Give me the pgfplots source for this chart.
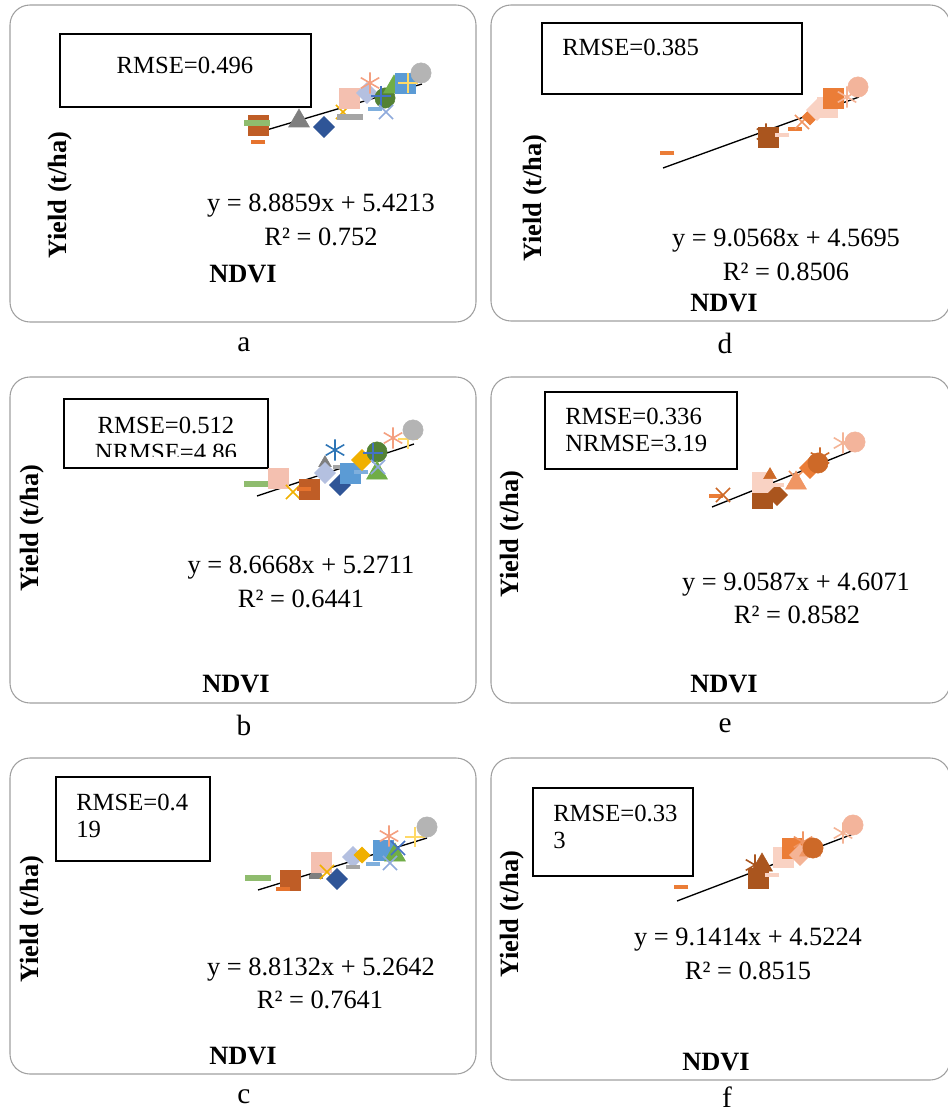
\documentclass[border=0pt]{standalone}
\usepackage{fontspec}
\setmainfont{Liberation Serif}
\usepackage{pgfplots}
\pgfplotsset{compat=1.18}

\definecolor{cBrown}{RGB}{191,93,38}
\definecolor{cLGreen}{RGB}{143,188,110}
\definecolor{cOrange}{RGB}{230,115,45}
\definecolor{cGray}{RGB}{127,127,127}
\definecolor{cNavy}{RGB}{47,85,151}
\definecolor{cGold}{RGB}{240,176,0}
\definecolor{cLGray}{RGB}{165,165,165}
\definecolor{cPink}{RGB}{244,192,176}
\definecolor{cLav}{RGB}{180,192,224}
\definecolor{cSalmon}{RGB}{244,160,128}
\definecolor{cDGreen}{RGB}{84,130,53}
\definecolor{cBlue}{RGB}{68,114,196}
\definecolor{cLBlue}{RGB}{127,175,221}
\definecolor{cPeri}{RGB}{143,170,220}
\definecolor{cGreen}{RGB}{112,173,71}
\definecolor{cSky}{RGB}{91,155,213}
\definecolor{cLGold}{RGB}{255,217,102}
\definecolor{cCircle}{RGB}{180,180,180}
\definecolor{cSteel}{RGB}{46,117,182}
\definecolor{oDark}{RGB}{170,85,30}
\definecolor{oMid}{RGB}{205,105,40}
\definecolor{oOr}{RGB}{235,125,55}
\definecolor{oSal}{RGB}{240,150,100}
\definecolor{oLight}{RGB}{244,180,150}
\definecolor{oPale}{RGB}{249,210,195}
\definecolor{oCirc}{RGB}{243,180,155}
\definecolor{frameGray}{RGB}{160,160,160}

\newcommand\ft{\fontsize{18.5}{22}\selectfont}
\newcommand\fe{\fontsize{19.8}{23}\selectfont}
\newcommand\fb{\fontsize{19.8}{23}\selectfont\bfseries}
\newcommand\fl{\fontsize{22}{26}\selectfont}

\pgfplotsset{
  panel/.style n args={4}{hide axis, clip=false, x=0.75pt, y=0.75pt,
    xmin=#1, xmax=#3, ymin=-#4, ymax=-#2,
    at={(#1*0.75pt,-#4*0.75pt)}, anchor=south west},
  S/.style={only marks, mark=square*, mark size=7.6pt, color=#1, mark options={fill=#1, draw=#1}},
  s/.style={only marks, mark=square*, mark size=5.5pt, color=#1, mark options={fill=#1, draw=#1}},
  T/.style={only marks, mark=triangle*, mark size=9pt, color=#1, mark options={fill=#1, draw=#1}},
  t/.style={only marks, mark=triangle*, mark size=5.5pt, color=#1, mark options={fill=#1, draw=#1}},
  D/.style={only marks, mark=square*, mark size=5.6pt, color=#1, mark options={fill=#1, draw=#1, rotate=45}},
  d/.style={only marks, mark=square*, mark size=4.3pt, color=#1, mark options={fill=#1, draw=#1, rotate=45}},
  C/.style={only marks, mark=*, mark size=7.6pt, color=#1, mark options={fill=#1, draw=#1}},
  X/.style={only marks, mark=x, mark size=7.5pt, color=#1, mark options={line width=1.2pt}},
  P/.style={only marks, mark=+, mark size=7.5pt, color=#1, mark options={line width=1.2pt}},
  A/.style={only marks, mark=asterisk, mark size=8pt, color=#1, mark options={line width=1.2pt}},
  H/.style={only marks, mark=-, mark size=9.5pt, color=#1, mark options={line width=3.8pt}},
  h/.style={only marks, mark=-, mark size=5.5pt, color=#1, mark options={line width=3.2pt}},
  trend/.style={sharp plot, no marks, black, line width=1pt},
}
\tikzset{frame/.style={draw=frameGray, line width=0.8pt, rounded corners=15pt},
  rbox/.style={draw=black, line width=1.6pt}}

\begin{document}
\begin{tikzpicture}
\path[use as bounding box] (0,0) rectangle (711pt,-834pt);

% ---------------- panel a ----------------
\begin{axis}[panel={10}{5}{476}{322}]
\draw[frame] (10,-5) rectangle (476,-322);
\draw[rbox] (60,-34) rectangle (311,-107);
\node[font=\ft, inner sep=0pt] at (185,-65) {RMSE=0.496};
\addplot[S=cBrown] coordinates {(258,-125)};
\addplot[H=cLGreen] coordinates {(257,-123)};
\addplot[h=cOrange] coordinates {(258,-142)};
\addplot[T=cGray] coordinates {(299,-121)};
\addplot[D=cNavy] coordinates {(324,-127)};
\addplot[X=cGold] coordinates {(343,-112)};
\addplot[H=cLGray] coordinates {(350,-117)};
\addplot[S=cPink] coordinates {(349,-98)};
\addplot[D=cLav] coordinates {(367,-93)};
\addplot[A=cSalmon] coordinates {(370,-83)};
\addplot[C=cDGreen] coordinates {(385,-98)};
\addplot[P=cBlue] coordinates {(381,-96)};
\addplot[h=cLBlue] coordinates {(375,-109)};
\addplot[X=cPeri] coordinates {(386,-112)};
\addplot[T=cGreen] coordinates {(394,-87)};
\addplot[S=cSky] coordinates {(405,-83)};
\addplot[P=cLGold] coordinates {(408,-83)};
\addplot[C=cCircle] coordinates {(421,-73)};
\addplot[trend] coordinates {(253,-134) (422,-84)};
\node[font=\fe, inner sep=0pt] at (321,-206) {y = 8.8859x + 5.4213};
\node[font=\fe, inner sep=0pt] at (321,-237) {R² = 0.752};
\node[font=\fb, inner sep=0pt] at (243,-274) {NDVI};
\node[font=\fb, inner sep=0pt, rotate=90] at (60,-195) {Yield (t/ha)};
\node[font=\fl, inner sep=0pt] at (244,-345) {a};
\end{axis}

% ---------------- panel d ----------------
\begin{axis}[panel={491}{5}{950}{321}]
\draw[frame] (491,-5) rectangle (950,-321);
\draw[rbox] (542,-23) rectangle (802,-94);
\node[font=\ft, inner sep=0pt, anchor=west] at (562,-47) {RMSE=0.385};
\addplot[h=oOr] coordinates {(667,-153)};
\addplot[A=oDark] coordinates {(766,-134)};
\addplot[S=oDark] coordinates {(768,-137)};
\addplot[h=oPale] coordinates {(782,-135)};
\addplot[h=oOr] coordinates {(795,-129)};
\addplot[X=oSal] coordinates {(802,-122)};
\addplot[d=oOr] coordinates {(810,-117)};
\addplot[D=oPale] coordinates {(817,-110)};
\addplot[S=oPale] coordinates {(827,-107)};
\addplot[S=oOr] coordinates {(833,-98)};
\addplot[A=oLight] coordinates {(847,-97)};
\addplot[C=oCirc] coordinates {(858,-87)};
\addplot[trend] coordinates {(663,-168) (859,-97)};
\node[font=\fe, inner sep=0pt] at (786,-241) {y = 9.0568x + 4.5695};
\node[font=\fe, inner sep=0pt] at (786,-272) {R² = 0.8506};
\node[font=\fb, inner sep=0pt] at (724,-303) {NDVI};
\node[font=\fb, inner sep=0pt, rotate=90] at (535,-198) {Yield (t/ha)};
\node[font=\fl, inner sep=0pt] at (725,-343) {d};
\end{axis}

% ---------------- panel b ----------------
\begin{axis}[panel={10}{377}{476}{703}]
\draw[frame] (10,-377) rectangle (476,-703);
\node[font=\ft, inner sep=0pt] at (166,-425) {RMSE=0.512};
\node[font=\ft, inner sep=0pt] at (166,-452) {NRMSE=4.86};
\fill[white] (62,-456.5) rectangle (270,-470);
\draw[rbox] (64,-399) rectangle (268,-468);
\addplot[H=cLGreen] coordinates {(257,-484)};
\addplot[S=cPink] coordinates {(278,-478)};
\addplot[X=cGold] coordinates {(293,-492)};
\addplot[S=cBrown] coordinates {(309,-489)};
\addplot[h=cOrange] coordinates {(304,-489)};
\addplot[t=cGray] coordinates {(325,-463)};
\addplot[D=cLav] coordinates {(325,-473)};
\addplot[A=cSteel] coordinates {(335,-450)};
\addplot[D=cNavy] coordinates {(340,-485)};
\addplot[h=cLGray] coordinates {(340,-467)};
\addplot[S=cSky] coordinates {(350,-473)};
\addplot[h=cLBlue] coordinates {(361,-472)};
\addplot[D=cGold] coordinates {(362,-460)};
\addplot[C=cDGreen] coordinates {(377,-452)};
\addplot[P=cBlue] coordinates {(373,-453)};
\addplot[T=cGreen] coordinates {(377,-473)};
\addplot[X=cPeri] coordinates {(378,-467)};
\addplot[A=cSalmon] coordinates {(393,-438)};
\addplot[P=cLGold] coordinates {(408,-439)};
\addplot[C=cCircle] coordinates {(413,-430)};
\addplot[trend] coordinates {(257,-496) (414,-444)};
\node[font=\fe, inner sep=0pt] at (301,-568) {y = 8.6668x + 5.2711};
\node[font=\fe, inner sep=0pt] at (301,-599) {R² = 0.6441};
\node[font=\fb, inner sep=0pt] at (236,-684) {NDVI};
\node[font=\fb, inner sep=0pt, rotate=90] at (32,-528) {Yield (t/ha)};
\node[font=\fl, inner sep=0pt] at (244,-725) {b};
\end{axis}

% ---------------- panel e ----------------
\begin{axis}[panel={491}{377}{950}{703}]
\draw[frame] (491,-377) rectangle (950,-703);
\draw[rbox] (545,-392) rectangle (737,-469);
\node[font=\ft, inner sep=0pt, anchor=west] at (565,-416) {RMSE=0.336};
\node[font=\ft, inner sep=0pt, anchor=west] at (565,-444) {NRMSE=3.19};
\addplot[h=oOr] coordinates {(716,-496)};
\addplot[X=oMid] coordinates {(723,-495)};
\addplot[S=oDark] coordinates {(762,-498)};
\addplot[S=oPale] coordinates {(762,-482)};
\addplot[t=oMid] coordinates {(770,-475)};
\addplot[D=oDark] coordinates {(777,-495)};
\addplot[h=oPale] coordinates {(777,-485)};
\addplot[X=oSal] coordinates {(796,-478)};
\addplot[T=oSal] coordinates {(796,-483)};
\addplot[D=oOr] coordinates {(810,-468)};
\addplot[C=oMid] coordinates {(818,-463)};
\addplot[A=oMid] coordinates {(820,-458)};
\addplot[A=oLight] coordinates {(843,-443)};
\addplot[C=oCirc] coordinates {(855,-442)};
\addplot[trend] coordinates {(712,-507) (854,-450)};
\node[font=\fe, inner sep=0pt] at (796,-585) {y = 9.0587x + 4.6071};
\node[font=\fe, inner sep=0pt] at (797,-615) {R² = 0.8582};
\node[font=\fb, inner sep=0pt] at (724,-684) {NDVI};
\node[font=\fb, inner sep=0pt, rotate=90] at (512,-534) {Yield (t/ha)};
\node[font=\fl, inner sep=0pt] at (725,-726) {e};
\end{axis}

% ---------------- panel c ----------------
\begin{axis}[panel={10}{758}{476}{1074}]
\draw[frame] (10,-758) rectangle (476,-1074);
\draw[rbox] (56,-777) rectangle (210,-861);
\node[font=\ft, inner sep=0pt, anchor=west] at (76,-802) {RMSE=0.4};
\node[font=\ft, inner sep=0pt, anchor=west] at (76,-829) {19};
\addplot[H=cLGreen] coordinates {(258,-878)};
\addplot[S=cBrown] coordinates {(290,-880)};
\addplot[h=cOrange] coordinates {(283,-889)};
\addplot[h=cGray] coordinates {(316,-877)};
\addplot[t=cGray] coordinates {(316,-872)};
\addplot[S=cPink] coordinates {(321,-862)};
\addplot[X=cGold] coordinates {(327,-872)};
\addplot[D=cNavy] coordinates {(337,-879)};
\addplot[D=cLav] coordinates {(353,-857)};
\addplot[h=cLGray] coordinates {(353,-867)};
\addplot[d=cGold] coordinates {(362,-855)};
\addplot[h=cLBlue] coordinates {(373,-864)};
\addplot[S=cSky] coordinates {(383,-850)};
\addplot[T=cGreen] coordinates {(395,-855)};
\addplot[X=cPeri] coordinates {(390,-863)};
\addplot[X=cBlue] coordinates {(398,-848)};
\addplot[A=cSalmon] coordinates {(389,-836)};
\addplot[P=cLGold] coordinates {(415,-837)};
\addplot[C=cCircle] coordinates {(427,-827)};
\addplot[trend] coordinates {(258,-890) (427,-838)};
\node[font=\fe, inner sep=0pt] at (321,-970) {y = 8.8132x + 5.2642};
\node[font=\fe, inner sep=0pt] at (320,-1000) {R² = 0.7641};
\node[font=\fb, inner sep=0pt] at (243,-1056) {NDVI};
\node[font=\fb, inner sep=0pt, rotate=90] at (32,-919) {Yield (t/ha)};
\node[font=\fl, inner sep=0pt] at (244,-1097) {c};
\end{axis}

% ---------------- panel f ----------------
\begin{axis}[panel={491}{758}{950}{1080}]
\draw[frame] (491,-758) rectangle (950,-1080);
\draw[rbox] (533,-788) rectangle (693,-876);
\node[font=\ft, inner sep=0pt, anchor=west] at (553,-813) {RMSE=0.33};
\node[font=\ft, inner sep=0pt, anchor=west] at (553,-840) {3};
\addplot[h=oOr] coordinates {(681,-887)};
\addplot[A=oDark] coordinates {(755,-865)};
\addplot[T=oDark] coordinates {(762,-865)};
\addplot[S=oDark] coordinates {(758,-878)};
\addplot[h=oPale] coordinates {(772,-875)};
\addplot[S=oPale] coordinates {(783,-857)};
\addplot[S=oOr] coordinates {(792,-848)};
\addplot[A=oSal] coordinates {(803,-842)};
\addplot[D=oLight] coordinates {(800,-855)};
\addplot[T=oSal] coordinates {(810,-850)};
\addplot[C=oMid] coordinates {(813,-848)};
\addplot[A=oLight] coordinates {(843,-833)};
\addplot[C=oCirc] coordinates {(853,-825)};
\addplot[trend] coordinates {(677,-901) (853,-834)};
\node[font=\fe, inner sep=0pt] at (748,-940) {y = 9.1414x + 4.5224};
\node[font=\fe, inner sep=0pt] at (748,-971) {R² = 0.8515};
\node[font=\fb, inner sep=0pt] at (716,-1062) {NDVI};
\node[font=\fb, inner sep=0pt, rotate=90] at (512,-914) {Yield (t/ha)};
\node[font=\fl, inner sep=0pt] at (727,-1097) {f};
\end{axis}
\end{tikzpicture}
\end{document}
